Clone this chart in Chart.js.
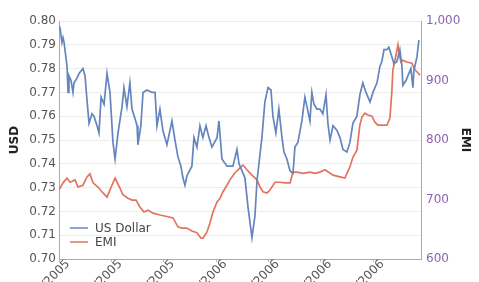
<!DOCTYPE html>
<html>
<head>
<meta charset="utf-8">
<script src="https://cdn.jsdelivr.net/npm/chart.js@4/dist/chart.umd.min.js"></script>
<style>
    html, body { margin: 0; padding: 0; background: #fff; overflow: hidden; }
    #wrap { width: 479px; height: 282px; }
</style>
</head>
<body>
<div id="wrap"><canvas id="rateChart" width="479" height="282"></canvas></div>
<script>
// Time is in months counted from the start of Jan 2005 (3 = April 2005)
const usdMonths = [3.00, 3.06, 3.17, 3.23, 3.29, 3.46, 3.52, 3.57, 3.69, 3.80, 3.86, 4.03, 4.15, 4.26, 4.37, 4.49,
    4.60, 4.72, 4.89, 5.00, 5.18, 5.29, 5.41, 5.58, 5.75, 5.92, 6.09, 6.21, 6.38, 6.61, 6.72, 6.89,
    7.06, 7.18, 7.35, 7.47, 7.52, 7.69, 7.81, 8.04, 8.32, 8.50, 8.61, 8.78, 8.95, 9.18, 9.47, 9.64,
    9.81, 9.98, 10.10, 10.21, 10.33, 10.61, 10.73, 10.90, 11.07, 11.24, 11.42, 11.59, 11.76, 12.05, 12.16, 12.33,
    12.62, 12.96, 13.19, 13.31, 13.48, 13.65, 13.82, 14.05, 14.22, 14.34, 14.62, 14.79, 14.97, 15.14, 15.25, 15.42,
    15.59, 15.77, 15.88, 16.05, 16.23, 16.40, 16.51, 16.68, 16.91, 17.08, 17.20, 17.37, 17.48, 17.60, 17.77, 17.94,
    18.11, 18.29, 18.40, 18.52, 18.69, 18.92, 19.09, 19.26, 19.49, 19.66, 19.83, 20.06, 20.23, 20.40, 20.58, 20.81,
    20.98, 21.21, 21.38, 21.49, 21.61, 21.78, 21.89, 22.06, 22.18, 22.35, 22.52, 22.64, 22.69, 22.87, 22.98, 23.15,
    23.27, 23.32, 23.50, 23.61];
const usdValues = [0.798, 0.797, 0.791, 0.793, 0.791, 0.781, 0.770, 0.777, 0.775, 0.770, 0.774, 0.776, 0.778, 0.779, 0.780, 0.777,
    0.767, 0.757, 0.761, 0.760, 0.756, 0.753, 0.768, 0.765, 0.778, 0.770, 0.749, 0.742, 0.753, 0.764, 0.772, 0.764,
    0.774, 0.763, 0.759, 0.756, 0.748, 0.756, 0.770, 0.771, 0.770, 0.770, 0.756, 0.763, 0.754, 0.748, 0.758, 0.750,
    0.743, 0.739, 0.734, 0.731, 0.735, 0.739, 0.751, 0.747, 0.756, 0.751, 0.756, 0.751, 0.747, 0.751, 0.758, 0.742,
    0.739, 0.739, 0.746, 0.740, 0.737, 0.734, 0.722, 0.709, 0.718, 0.733, 0.751, 0.766, 0.772, 0.771, 0.760, 0.753,
    0.763, 0.751, 0.745, 0.742, 0.737, 0.736, 0.747, 0.749, 0.758, 0.768, 0.764, 0.758, 0.770, 0.765, 0.763, 0.763,
    0.761, 0.769, 0.757, 0.750, 0.756, 0.754, 0.751, 0.746, 0.745, 0.749, 0.757, 0.760, 0.769, 0.774, 0.770, 0.766,
    0.770, 0.774, 0.781, 0.783, 0.788, 0.788, 0.789, 0.785, 0.782, 0.783, 0.788, 0.781, 0.773, 0.775, 0.777, 0.780,
    0.772, 0.779, 0.785, 0.792];

const emiMonths = [3.00, 3.23, 3.46, 3.63, 3.92, 4.09, 4.37, 4.60, 4.77, 4.95, 5.23, 5.52, 5.75, 6.03, 6.21, 6.49,
    6.66, 6.95, 7.18, 7.41, 7.64, 7.87, 8.10, 8.38, 8.78, 9.24, 9.53, 9.81, 10.04, 10.33, 10.61, 10.90,
    11.13, 11.24, 11.47, 11.64, 11.82, 12.05, 12.22, 12.39, 12.62, 12.79, 13.08, 13.37, 13.53, 13.76, 14.05, 14.34,
    14.51, 14.68, 14.91, 15.08, 15.37, 15.65, 15.94, 16.23, 16.40, 16.63, 16.97, 17.37, 17.66, 17.94, 18.23, 18.69,
    19.09, 19.37, 19.66, 19.83, 20.06, 20.23, 20.35, 20.52, 20.69, 20.92, 21.09, 21.26, 21.78, 21.95, 22.06, 22.12,
    22.24, 22.41, 22.47, 22.58, 22.69, 22.92, 23.21, 23.38, 23.55, 23.67];
const emiValues = [716, 728, 736, 729, 733, 721, 724, 738, 743, 728, 721, 711, 704, 724, 736, 719,
    708, 702, 699, 699, 687, 679, 682, 677, 674, 671, 669, 654, 652, 652, 647, 644,
    635, 635, 645, 660, 679, 696, 702, 713, 724, 733, 745, 753, 758, 750, 741, 733,
    721, 713, 711, 716, 729, 729, 728, 728, 746, 746, 744, 746, 744, 746, 750, 741,
    738, 736, 755, 771, 783, 825, 839, 845, 842, 840, 830, 825, 825, 837, 881, 918,
    934, 960, 946, 931, 934, 931, 929, 918, 913, 909];

const seriesNames = ['US Dollar', 'EMI'];
const usdTicks = [0.70, 0.80, 0.01];   // min, max, step
const emiTicks = [600, 1000, 100];
const monthRange = [3, 23.73, 3];

const blue = '#6485bd';
const red = '#e2745f';
const purple = '#8c62b0';

function toPoints(xs, ys) {
    return xs.map(function(x, i) { return { x: x, y: ys[i] }; });
}

function monthLabel(v) {
    const m = Math.round(v);
    return ((m % 12) + 1) + '/' + (2005 + Math.floor(m / 12));
}

// Legend sits inside the plot, bottom left
const innerLegend = {
    id: 'innerLegend',
    afterDraw: function(chart) {
        const ctx = chart.ctx;
        const area = chart.chartArea;
        ctx.save();
        ctx.font = '12px "DejaVu Sans"';
        ctx.textBaseline = 'middle';
        chart.data.datasets.forEach(function(ds, i) {
            const y = area.bottom - 31 + i * 14;
            const x = area.left + 11;
            ctx.strokeStyle = ds.borderColor;
            ctx.lineWidth = 1.5;
            ctx.beginPath();
            ctx.moveTo(x, y);
            ctx.lineTo(x + 18, y);
            ctx.stroke();
            ctx.fillStyle = '#444';
            ctx.fillText(ds.label, x + 25, y + 1);
        });
        ctx.restore();
    }
};

new Chart(document.getElementById('rateChart'), {
    type: 'line',
    data: {
        datasets: [{
            label: seriesNames[0],
            data: toPoints(usdMonths, usdValues),
            borderColor: blue,
            borderWidth: 1.7,
            pointRadius: 0,
            yAxisID: 'yUsd'
        }, {
            label: seriesNames[1],
            data: toPoints(emiMonths, emiValues),
            borderColor: red,
            borderWidth: 1.7,
            pointRadius: 0,
            yAxisID: 'yEmi'
        }]
    },
    plugins: [innerLegend],
    options: {
        responsive: false,
        animation: false,
        layout: { padding: { top: 21, left: 0, right: 0, bottom: 0 } },
        plugins: {
            legend: { display: false },
            tooltip: { enabled: false }
        },
        scales: {
            x: {
                type: 'linear',
                min: monthRange[0],
                max: monthRange[1],
                grid: { drawOnChartArea: false, tickLength: 3, color: '#bbb' },
                border: { color: '#aaa' },
                ticks: {
                    stepSize: monthRange[2],
                    includeBounds: false,
                    autoSkip: false,
                    minRotation: 45,
                    maxRotation: 45,
                    labelOffset: 9,
                    padding: -5,
                    color: '#555',
                    font: { family: 'DejaVu Sans', size: 12 },
                    callback: monthLabel
                },
                afterFit: function(scale) { scale.height = 23; }
            },
            yUsd: {
                position: 'left',
                min: usdTicks[0],
                max: usdTicks[1],
                grid: { color: '#ececec', drawTicks: false },
                border: { color: '#aaa' },
                ticks: {
                    stepSize: usdTicks[2],
                    padding: 3,
                    color: '#555',
                    font: { family: 'DejaVu Sans', size: 12 },
                    callback: function(v) { return v.toFixed(2); }
                },
                title: {
                    display: true,
                    text: 'USD',
                    color: '#222',
                    font: { family: 'DejaVu Sans', size: 12, weight: 'bold' },
                    padding: { top: 8, bottom: 0 }
                },
                afterFit: function(scale) { scale.width = 59; }
            },
            yEmi: {
                position: 'right',
                min: emiTicks[0],
                max: emiTicks[1],
                grid: { drawOnChartArea: false, drawTicks: false },
                border: { color: '#aaa' },
                ticks: {
                    stepSize: emiTicks[2],
                    padding: 5,
                    color: purple,
                    font: { family: 'DejaVu Sans', size: 12 },
                    callback: function(v) { return v.toLocaleString('en-US'); }
                },
                title: {
                    display: true,
                    text: 'EMI',
                    color: '#222',
                    font: { family: 'DejaVu Sans', size: 12, weight: 'bold' },
                    padding: { top: 7, bottom: 0 }
                },
                afterFit: function(scale) { scale.width = 58; }
            }
        }
    }
});
</script>
</body>
</html>
